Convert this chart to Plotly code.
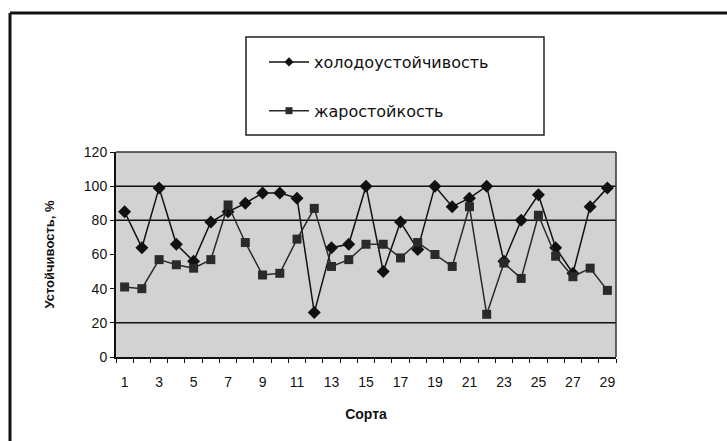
import plotly.graph_objects as go

# Сорта 1..29
varieties = list(range(1, 30))

# Холодоустойчивость, %
cold_resistance = [85, 64, 99, 66, 56, 79, 85, 90, 96, 96,
                   93, 26, 64, 66, 100, 50, 79, 63, 100, 88,
                   93, 100, 56, 80, 95, 64, 49, 88, 99]

# Жаростойкость, %
heat_resistance = [41, 40, 57, 54, 52, 57, 89, 67, 48, 49,
                   69, 87, 53, 57, 66, 66, 58, 67, 60, 53,
                   88, 25, 55, 46, 83, 59, 47, 52, 39]

series_names = ["холодоустойчивость", "жаростойкость"]
x_labels = list(range(1, 30, 2))
y_ticks = list(range(0, 121, 20))
grid_levels = [20, 80, 100]

FONT = "Arial, Liberation Sans, sans-serif"

W, H = 727, 441
L, R, T, B = 116, 111, 152, 84
PW, PH = W - L - R, H - T - B


def px(x):
    return (x - L) / PW


def py(y):
    return (H - B - y) / PH


styles = [
    dict(color="#111111", symbol="diamond", size=10),
    dict(color="#2a2a2a", symbol="square", size=9),
]

fig = go.Figure()

for name, values, st, grp in zip(series_names, [cold_resistance, heat_resistance], styles, ["a", "b"]):
    fig.add_trace(go.Scatter(
        x=varieties, y=values, mode="lines+markers",
        name=name, showlegend=False,
        line=dict(color=st["color"], width=1.5),
        marker=dict(symbol=st["symbol"], size=st["size"], color=st["color"]),
    ))
    # legend entry with the small marker of the key
    fig.add_trace(go.Scatter(
        x=[None], y=[None], mode="lines+markers",
        name=name, legendgroup=grp,
        line=dict(color=st["color"], width=1.5),
        marker=dict(symbol=st["symbol"], size=7, color=st["color"]),
    ))

shapes = []
# horizontal grid lines
for g in grid_levels:
    shapes.append(dict(type="line", xref="paper", yref="y", x0=0, x1=1, y0=g, y1=g,
                       line=dict(color="#111111", width=1.5), layer="below"))
# plot-area frame (top and right)
shapes.append(dict(type="line", xref="paper", yref="paper", x0=0, x1=1, y0=1, y1=1,
                   line=dict(color="#333333", width=1.5)))
shapes.append(dict(type="line", xref="paper", yref="paper", x0=1, x1=1, y0=0, y1=1,
                   line=dict(color="#333333", width=1.5)))
# legend box
shapes.append(dict(type="rect", xref="paper", yref="paper",
                   x0=px(246), x1=px(544), y0=py(135), y1=py(37),
                   line=dict(color="#222222", width=1.5), fillcolor="white", layer="below"))
# outer chart frame (left and top edges)
shapes.append(dict(type="line", xref="paper", yref="paper",
                   x0=px(10), x1=px(740), y0=py(13), y1=py(13),
                   line=dict(color="#111111", width=3)))
shapes.append(dict(type="line", xref="paper", yref="paper",
                   x0=px(10), x1=px(10), y0=py(13), y1=py(460),
                   line=dict(color="#111111", width=3)))

fig.update_layout(
    width=W, height=H,
    margin=dict(l=L, r=R, t=T, b=B),
    paper_bgcolor="white",
    plot_bgcolor="#d2d2d2",
    font=dict(family=FONT, color="#111111"),
    shapes=shapes,
    showlegend=True,
    legend=dict(
        x=px(264), y=py(45), xanchor="left", yanchor="top",
        bgcolor="rgba(0,0,0,0)", borderwidth=0,
        font=dict(family="DejaVu Sans, sans-serif", size=16, color="#111111"),
        traceorder="grouped", tracegroupgap=25, itemwidth=40,
    ),
    xaxis=dict(
        range=[0.5, 29.5], tickvals=x_labels, ticktext=[str(v) for v in x_labels],
        ticks="", showgrid=False, zeroline=False,
        showline=True, linecolor="#111111", linewidth=2,
        tickfont=dict(size=14, family=FONT), ticklabelstandoff=11,
        minor=dict(tick0=0.5, dtick=1, ticks="outside", ticklen=4,
                   tickcolor="#111111", tickwidth=1, showgrid=False),
        title=dict(text="<b>Сорта</b>", font=dict(size=14, family=FONT), standoff=20),
    ),
    yaxis=dict(
        range=[0, 120], tickvals=y_ticks, ticks="outside", ticklen=4,
        tickcolor="#111111", showgrid=False, zeroline=False,
        showline=True, linecolor="#111111", linewidth=2,
        tickfont=dict(size=14, family=FONT),
        title=dict(text="<b>Устойчивость, %</b>", font=dict(size=13, family=FONT), standoff=26),
    ),
)

fig.write_html("out.html")
